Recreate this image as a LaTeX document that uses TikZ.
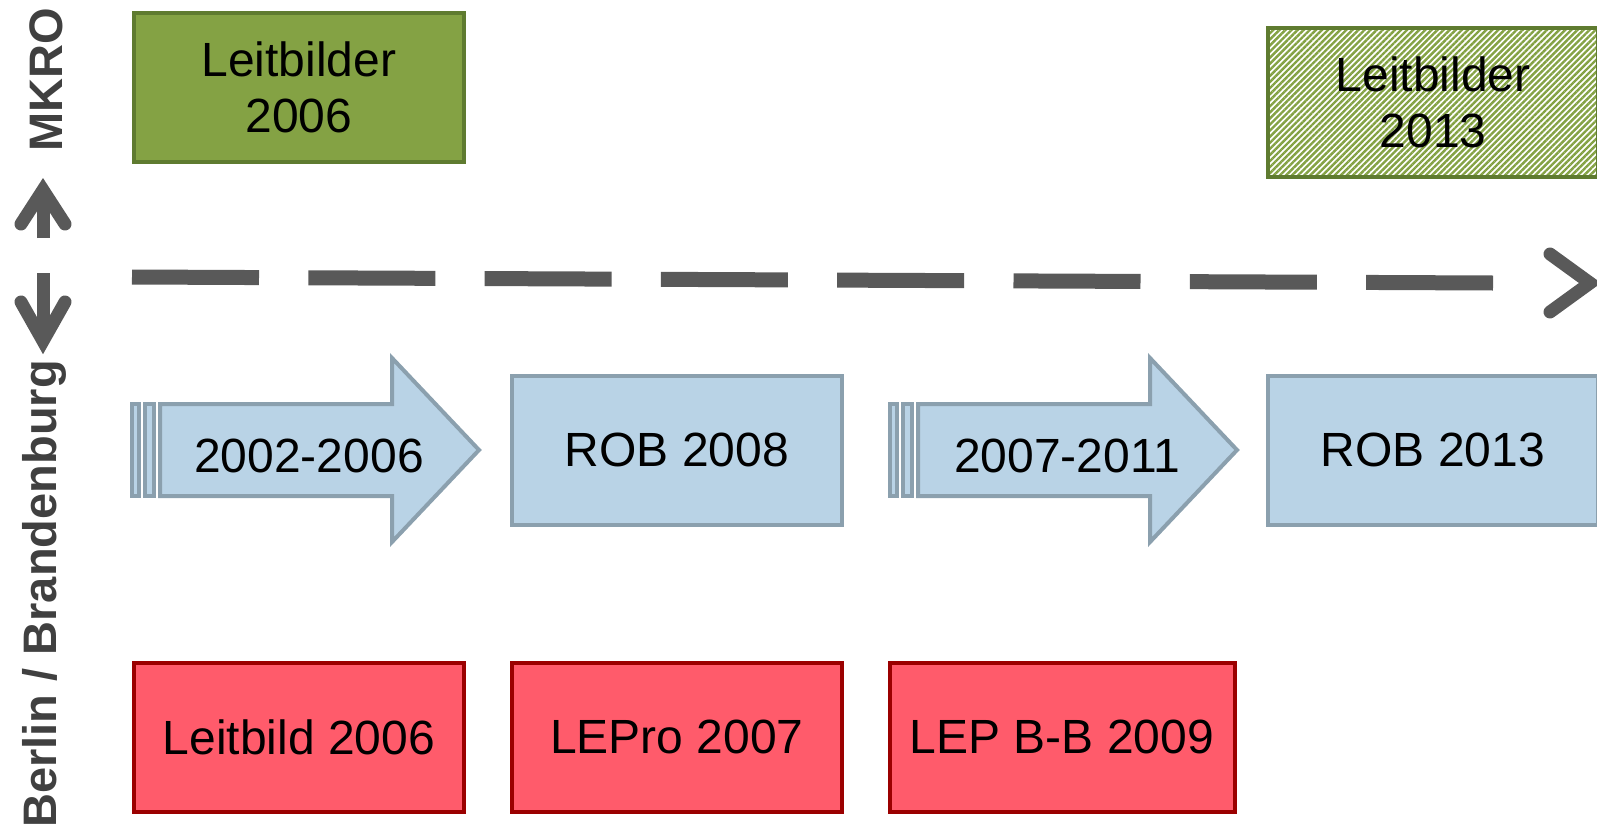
\documentclass[tikz,border=0pt]{standalone}
\usepackage{fontspec}
\setmainfont{Liberation Sans}
\usetikzlibrary{patterns.meta}

\definecolor{lbgreen}{HTML}{84A244}
\definecolor{lbgreenline}{HTML}{5F7B30}
\definecolor{robblue}{HTML}{B9D3E6}
\definecolor{robline}{HTML}{8BA0AE}
\definecolor{lepred}{HTML}{FF5B6B}
\definecolor{lepline}{HTML}{9B0000}
\definecolor{axisgray}{HTML}{595959}
\definecolor{labelgray}{HTML}{404040}

\begin{document}
\begin{tikzpicture}[x=1pt,y=-1pt,
    box/.style={draw,line width=4pt,minimum width=330pt,minimum height=149pt,
      inner sep=0pt,align=center,font=\fontsize{48}{56}\selectfont},
    leitbild/.style={box,fill=lbgreen,draw=lbgreenline},
    leitbildnew/.style={box,draw=lbgreenline,
      pattern={Lines[angle=45,distance=4.3pt,line width=2.4pt]},pattern color=lbgreen},
    rob/.style={box,fill=robblue,draw=robline},
    lep/.style={box,fill=lepred,draw=lepline},
    stripe/.style={fill=robblue,draw=robline,line width=4pt},
    span/.style={font=\fontsize{48}{56}\selectfont},
    side/.style={text=labelgray,font=\bfseries\fontsize{47}{52}\selectfont,
      rotate=90,anchor=base east,inner sep=0pt},
    timeline/.style={draw=axisgray,line width=15pt,dash pattern=on 127pt off 49.3pt},
    shaft/.style={draw=axisgray,line width=13pt},
    chev/.style={draw=axisgray,line width=13pt,line cap=round,line join=miter},
  ]
  \useasboundingbox (0,0) rectangle (1597,835);

  % side labels
  \node[side] (mkro) at (62,8) {MKRO};
  \node[side] (bb) at (56,360) {Berlin / Brandenburg};
  \coordinate (up) at (43,190);
  \draw[shaft] (43,238) -- (43,196);
  \draw[chev] (21,224) -- (up) -- (65,224);
  \coordinate (down) at (43,341);
  \draw[shaft] (43,273) -- (43,335);
  \draw[chev] (21,302) -- (down) -- (65,302);

  % time line
  \coordinate (tl0) at (132,277);
  \coordinate (tl1) at (1493,283);
  \draw[timeline] (tl0) -- (tl1);
  \coordinate (tlhead) at (1590,283);
  \draw[chev] (1550,254) -- (tlhead) -- (1550,312);

  % MKRO
  \node[leitbild] (lb06) at (299,87) {Leitbilder\\2006};
  \node[leitbildnew] (lb13) at (1433,102) {Leitbilder\\2013};

  % periods and ROB
  \foreach \dx/\lbl/\nm in {0/2002-2006/spana,758/2007-2011/spanb}{
    \begin{scope}[shift={(\dx,0)}]
      \draw[stripe] (132,404) rectangle (139,496);
      \draw[stripe] (145,404) rectangle (154,496);
      \draw[stripe] (160,404) -- (392,404) -- (392,358) -- (479,450) -- (392,542)
        -- (392,496) -- (160,496) -- cycle;
      \node[span] (\nm) at (309,456) {\lbl};
    \end{scope}
  }
  \node[rob] (rob08) at (677,450) {ROB 2008};
  \node[rob] (rob13) at (1433,450) {ROB 2013};

  % Berlin / Brandenburg
  \node[lep] (lb06bb) at (299,737) {Leitbild 2006};
  \node[lep] (lepro) at (677,737) {LEPro 2007};
  \node[lep,minimum width=345pt] (lepbb) at (1062,737) {LEP B-B 2009};
\end{tikzpicture}
\end{document}
